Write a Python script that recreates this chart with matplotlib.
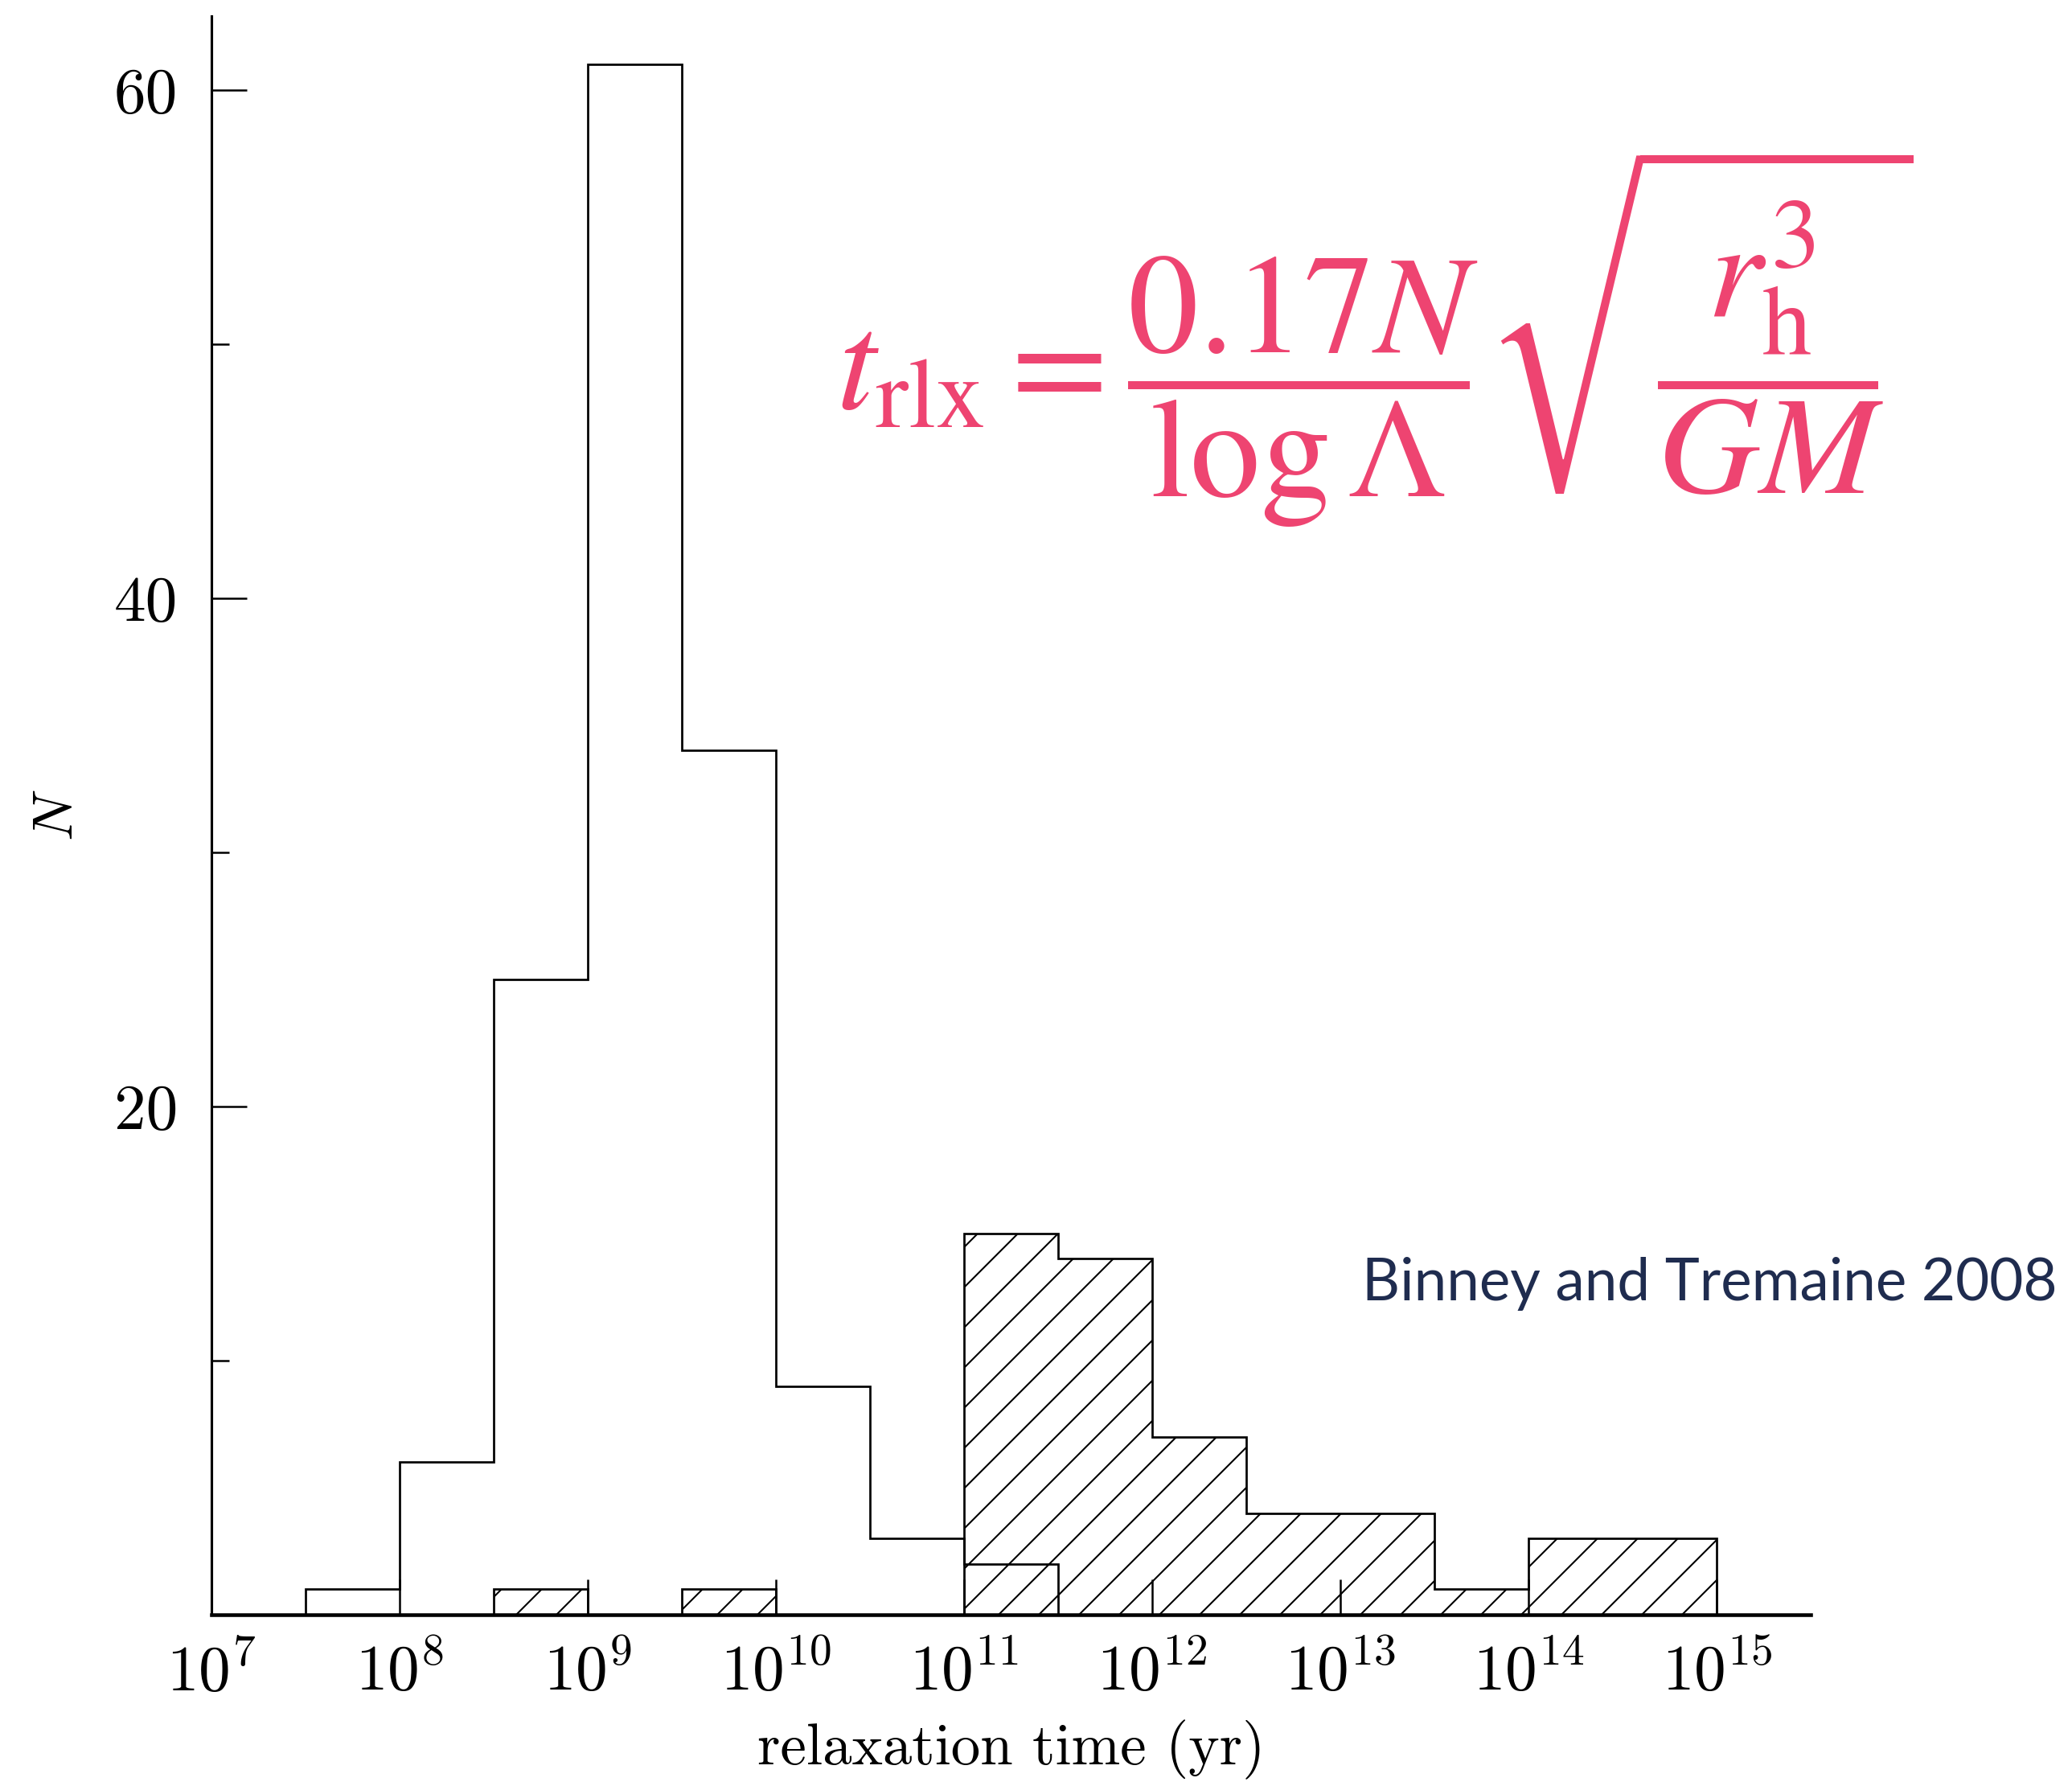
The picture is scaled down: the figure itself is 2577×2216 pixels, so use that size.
import numpy as np
import matplotlib
matplotlib.use("Agg")
import matplotlib.pyplot as plt
from matplotlib.ticker import NullLocator

# Computer-Modern look for the scanned figure
plt.rcParams['font.family'] = 'cmr10'
plt.rcParams['mathtext.fontset'] = 'cm'
plt.rcParams['axes.formatter.use_mathtext'] = True
plt.rcParams['hatch.linewidth'] = 1.0

# ─── DATA ───────────────────────────────────────────────────────────────
# bin edges in log10(relaxation time / yr)
log_edges = [7.0, 7.5, 8.0, 8.5, 9.0, 9.5, 10.0, 10.5, 11.0,
             11.5, 12.0, 12.5, 13.0, 13.5, 14.0, 14.5, 15.0]
# open histogram (globular clusters)
clusters = [0, 1, 6, 25, 61, 34, 9, 3, 2, 0, 0, 0, 0, 0, 0, 0]
# hatched histogram (galaxies)
galaxies = [0, 0, 0, 1, 0, 1, 0, 0, 15, 14, 7, 4, 4, 1, 3, 3]

xtick_exp = [7, 8, 9, 10, 11, 12, 13, 14, 15]
xtick_labels = [r'$\mathdefault{10^{%d}}$' % e for e in xtick_exp]
ytick_major = [20, 40, 60]
ytick_labels = ['20', '40', '60']
ytick_minor = [10, 30, 50]

FORMULA = (r'$t_{\mathrm{rlx}} = \dfrac{0.17N}{\log\Lambda}'
           r'\sqrt{\dfrac{r_{\mathrm{h}}^{3}}{GM}}$')
CREDIT = 'Binney and Tremaine 2008'
PINK = '#EE4471'
NAVY = '#1F2C4F'

# ─── PLOT ───────────────────────────────────────────────────────────────
DPI = 150
fig = plt.figure(figsize=(2577 / DPI, 2216 / DPI), dpi=DPI)
ax = fig.add_axes([0.102, 0.0939, 0.772, 0.897])

edges = 10.0 ** np.array(log_edges)
ax.stairs(galaxies, edges, fill=True, facecolor='none', edgecolor='black',
          hatch='/', linewidth=1.3)
ax.stairs(clusters, edges, color='black', linewidth=1.3)

ax.set_xscale('log')
ax.set_xlim(1e7, 10 ** 15.5)
ax.set_ylim(0, 62.9)

ax.set_xticks(10.0 ** np.array(xtick_exp), xtick_labels)
ax.xaxis.set_minor_locator(NullLocator())
ax.set_yticks(ytick_major, ytick_labels)
ax.set_yticks(ytick_minor, minor=True)

ax.tick_params(which='both', direction='in', width=1.2, top=False, right=False)
ax.tick_params(which='major', length=21, labelsize=38)
ax.tick_params(axis='x', which='major', pad=17)
ax.tick_params(axis='y', which='major', pad=20)
ax.tick_params(which='minor', length=10.5)

for side in ['top', 'right']:
    ax.spines[side].set_visible(False)
ax.spines['left'].set_linewidth(1.5)
ax.spines['bottom'].set_linewidth(2.2)

ax.set_xlabel('relaxation time (yr)', fontsize=35)
ax.xaxis.set_label_coords(0.5, -0.066)
ax.set_ylabel(r'$N$', fontsize=34)
ax.yaxis.set_label_coords(-0.08, 0.5)

fig.text(0.4036, 0.8106, FORMULA, fontsize=84, color=PINK,
         math_fontfamily='stix', ha='left', va='center')
fig.text(0.993, 1 - 1597 / 2216, CREDIT, family='Lato', fontsize=35,
         color=NAVY, ha='right', va='center')

fig.savefig('out.png', dpi=DPI)
